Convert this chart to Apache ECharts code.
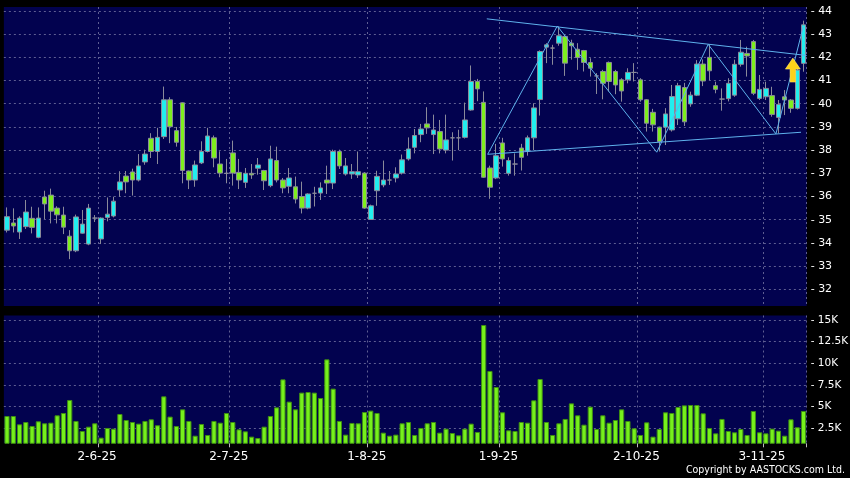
<!DOCTYPE html>
<html>
<head>
<meta charset="utf-8">
<script src="https://cdn.jsdelivr.net/npm/echarts@6/dist/echarts.min.js"></script>
<style>
  html, body { margin: 0; padding: 0; background: #000; }
  #chart { width: 850px; height: 478px; }
</style>
</head>
<body>
<div id="chart"></div>
<script>
// trading days (d-m-yy), one per candle
var days = [
  '12-5-25','13-5-25','14-5-25','15-5-25','16-5-25','19-5-25','20-5-25','21-5-25','22-5-25','23-5-25',
  '26-5-25','27-5-25','28-5-25','29-5-25','30-5-25',
  '2-6-25','3-6-25','4-6-25','5-6-25','6-6-25','9-6-25','10-6-25','11-6-25','12-6-25','13-6-25',
  '16-6-25','17-6-25','18-6-25','19-6-25','20-6-25','23-6-25','24-6-25','25-6-25','26-6-25','27-6-25','30-6-25',
  '2-7-25','3-7-25','4-7-25','7-7-25','8-7-25','9-7-25','10-7-25','11-7-25','14-7-25','15-7-25',
  '16-7-25','17-7-25','18-7-25','21-7-25','22-7-25','23-7-25','24-7-25','25-7-25','28-7-25','29-7-25','30-7-25','31-7-25',
  '1-8-25','4-8-25','5-8-25','6-8-25','7-8-25','8-8-25','11-8-25','12-8-25','13-8-25','14-8-25',
  '15-8-25','18-8-25','19-8-25','20-8-25','21-8-25','22-8-25','25-8-25','26-8-25','27-8-25','28-8-25','29-8-25',
  '1-9-25','2-9-25','3-9-25','4-9-25','5-9-25','8-9-25','9-9-25','10-9-25','11-9-25','12-9-25',
  '15-9-25','16-9-25','17-9-25','18-9-25','19-9-25','22-9-25','23-9-25','24-9-25','25-9-25','26-9-25','29-9-25','30-9-25',
  '2-10-25','3-10-25','6-10-25','8-10-25','9-10-25','10-10-25','13-10-25','14-10-25','15-10-25','16-10-25',
  '17-10-25','20-10-25','21-10-25','22-10-25','23-10-25','24-10-25','27-10-25','28-10-25','30-10-25','31-10-25',
  '3-11-25','4-11-25','5-11-25','6-11-25','7-11-25','10-11-25','11-11-25'
];
// first trading day of each month -> label + grid line
var monthStarts = [15, 36, 58, 79, 101, 121];

// [open, close, low, high]
var ohlc = [
  [34.55,35.13,34.45,35.53],[34.86,34.73,34.45,35.49],[34.47,35.07,34.17,35.15],[34.70,35.33,34.60,35.85],
  [35.06,34.67,34.41,35.56],[34.24,35.07,34.20,35.53],[35.98,35.68,35.03,36.25],[36.06,35.37,34.84,36.34],
  [35.50,35.21,34.84,35.58],[35.20,34.68,34.38,35.56],[34.29,33.66,33.30,34.55],[33.66,35.12,33.60,35.22],
  [34.42,34.81,34.40,35.42],[33.95,35.50,33.90,35.68],[35.07,35.07,34.90,35.20],[34.17,35.07,33.95,35.10],
  [35.10,35.24,34.93,35.96],[35.16,35.80,35.10,35.99],[36.28,36.63,35.99,37.09],[36.88,36.63,36.14,37.10],
  [37.06,36.71,36.04,37.20],[36.71,37.32,36.65,37.83],[37.49,37.83,37.37,38.02],[38.51,37.94,37.66,38.73],
  [37.94,38.55,37.40,38.96],[38.58,40.17,38.48,40.74],[40.17,39.01,38.30,40.28],[38.84,38.34,38.15,39.00],
  [40.04,37.12,36.57,40.06],[37.10,36.71,36.32,37.12],[36.71,37.36,36.42,37.55],[37.45,37.94,37.40,38.38],
  [37.94,38.61,37.90,38.96],[38.53,37.66,37.26,38.63],[37.40,37.01,36.83,37.95],[37.00,37.00,36.57,37.62],
  [37.88,37.01,36.47,38.41],[37.04,36.71,36.32,37.62],[36.61,37.00,36.37,37.23],[37.00,36.93,36.76,37.40],
  [37.22,37.36,36.94,37.66],[37.12,36.68,36.28,37.15],[36.47,37.62,36.40,38.19],[37.55,36.71,36.61,38.15],
  [36.71,36.37,36.14,36.80],[36.44,36.80,36.14,37.23],[36.42,35.89,35.70,36.86],[36.00,35.50,35.27,36.64],
  [35.50,36.11,35.45,36.14],[36.14,36.14,35.57,36.42],[36.15,36.37,35.85,36.61],[36.71,36.58,36.11,37.33],
  [36.58,37.94,36.32,38.02],[37.94,37.32,37.19,38.02],[36.97,37.32,36.90,37.66],[36.97,37.07,36.76,37.40],
  [36.93,37.07,36.80,37.94],[37.01,35.50,35.47,37.05],[35.01,35.60,34.99,35.65],[36.25,36.87,35.60,37.11],
  [36.50,36.71,36.40,37.55],[36.71,36.71,36.50,37.10],[36.80,36.97,36.61,37.26],[37.01,37.58,36.95,37.81],
  [37.62,38.05,37.55,38.55],[38.12,38.63,37.86,38.91],[38.67,38.91,38.34,39.13],[39.13,38.96,38.70,39.85],
  [38.67,38.87,37.83,39.53],[38.80,38.05,37.86,39.30],[38.00,38.44,37.86,39.53],[38.53,38.53,37.55,38.77],
  [38.53,38.53,38.00,38.88],[38.55,39.30,38.50,40.05],[39.73,40.96,39.70,41.65],[40.96,40.64,40.11,41.07],
  [40.06,36.83,36.80,40.53],[37.23,36.40,35.90,37.33],[36.80,37.76,36.75,38.27],[38.31,37.62,37.29,38.53],
  [37.00,37.55,36.90,37.69],[37.40,37.40,36.90,37.86],[38.09,37.69,37.12,38.27],[37.95,38.53,37.76,38.63],
  [38.53,39.82,38.00,40.02],[40.18,42.25,39.49,42.30],[42.44,42.54,41.75,42.61],[42.40,42.40,41.68,42.54],
  [42.61,42.93,42.50,43.33],[42.90,41.75,41.20,42.97],[42.61,42.50,41.90,42.76],[42.35,41.99,41.46,42.61],
  [42.29,41.78,41.39,42.32],[41.78,41.53,41.17,41.96],[41.20,41.20,40.42,41.32],[41.39,40.88,40.19,41.46],
  [41.78,40.96,40.53,41.82],[41.39,40.81,40.41,41.46],[41.03,40.55,40.09,41.10],[41.03,41.35,40.88,41.53],
  [41.35,41.35,40.96,41.75],[41.03,40.17,40.09,41.10],[40.17,39.16,38.80,40.20],[39.63,39.09,38.80,39.78],
  [38.99,38.37,37.94,39.01],[38.99,39.56,38.22,39.81],[38.87,40.31,38.80,40.81],[39.35,40.78,39.08,40.90],
  [40.70,39.22,39.04,40.90],[39.99,40.37,39.87,40.52],[40.37,41.71,40.33,41.88],[41.71,40.98,40.76,41.91],
  [42.00,41.42,41.02,42.56],[40.78,40.62,40.45,40.95],[40.20,40.20,39.70,40.66],[40.22,40.88,40.10,41.10],
  [40.37,41.70,40.30,41.90],[41.70,42.22,41.60,42.75],[42.17,42.06,41.17,42.46],[42.68,40.45,40.37,42.75],
  [40.23,40.62,40.16,41.24],[40.30,40.66,40.16,40.95],[40.35,39.54,39.44,40.73],[39.41,39.97,38.72,40.16],
  [40.30,40.16,39.51,40.59],[40.16,39.80,39.61,40.20],[39.80,41.45,39.75,41.67],[41.74,43.40,41.38,43.58]
];

// volume in thousands
var volumeK = [
  3.92,3.92,2.96,3.23,2.77,3.31,3.08,3.15,4.00,4.27,5.77,3.35,2.19,2.69,3.08,1.42,
  2.54,2.46,4.15,3.46,3.23,3.04,3.35,3.54,2.85,6.19,3.85,2.77,4.69,3.35,1.65,3.00,
  1.73,3.35,3.15,4.27,3.23,2.38,2.15,1.54,1.38,2.69,3.92,4.92,8.15,5.58,4.69,6.62,
  6.69,6.62,6.00,10.46,7.08,3.35,1.77,3.12,3.08,4.38,4.54,4.27,2.00,1.65,1.77,3.08,
  3.23,1.73,2.54,3.08,3.23,2.00,2.46,1.96,1.69,2.46,3.04,2.08,14.42,9.12,7.27,4.35,
  2.27,2.19,3.23,3.15,5.73,8.19,3.23,1.73,3.08,3.58,5.38,4.00,2.92,5.00,2.42,4.00,
  3.15,3.46,4.69,3.35,2.50,1.73,3.19,1.54,2.42,4.35,4.27,4.96,5.15,5.19,5.19,4.23,
  2.54,1.92,3.58,2.19,2.04,2.42,1.73,4.50,2.04,1.92,2.46,2.23,1.65,3.54,2.62,4.50
];

var priceTicks = [32, 33, 34, 35, 36, 37, 38, 39, 40, 41, 42, 43, 44];
var volumeTicks = [2.5, 5, 7.5, 10, 12.5, 15];

// drawn pattern lines: [candle position, price]
var trendUpper = [[76.5, 43.66], [127.5, 42.08]];
var trendLower = [[76.64, 37.82], [126.6, 38.77]];
var zigzag = [[76.64, 37.82], [87.74, 43.35], [103.6, 37.91], [111.8, 42.56], [122.6, 38.70], [126.96, 43.32]];
var arrowPoint = [[125.3, 41.45]];

var chart = echarts.init(document.getElementById('chart'));

var GRID_LINE = { color: '#5e5e92', width: 1, type: [2, 3] };
var isMonthStart = function (idx) { return monthStarts.indexOf(idx) >= 0; };

var option = {
  animation: false,
  backgroundColor: '#000',
  textStyle: { fontFamily: 'DejaVu Sans' },
  grid: [
    { left: 3.86, top: 7, width: 802.8, height: 299, show: true, backgroundColor: '#02024f', borderWidth: 0, outerBoundsMode: 'none' },
    { left: 3.86, top: 315.5, width: 802.8, height: 127.8, show: true, backgroundColor: '#02024f', borderWidth: 0, outerBoundsMode: 'none' }
  ],
  xAxis: [
    {
      type: 'category', gridIndex: 0, data: days, boundaryGap: true,
      axisLine: { show: false }, axisTick: { show: false }, axisLabel: { show: false },
      splitLine: { show: true, interval: isMonthStart, lineStyle: GRID_LINE }
    },
    {
      type: 'value', gridIndex: 0, min: -0.5, max: 127.5, show: false
    },
    {
      type: 'category', gridIndex: 1, data: days, boundaryGap: true,
      axisLine: { show: false },
      axisTick: { show: true, interval: isMonthStart, length: 4, lineStyle: { color: '#bbbbbb' } },
      axisLabel: {
        show: true, interval: isMonthStart, color: '#ffffff', fontSize: 12,
        margin: 8, padding: [0, 8, 0, 0], fontFamily: 'DejaVu Sans'
      },
      splitLine: { show: true, interval: isMonthStart, lineStyle: GRID_LINE }
    }
  ],
  yAxis: [
    {
      type: 'value', gridIndex: 0, position: 'right', min: 31.28, max: 44.17,
      axisLine: { show: false },
      axisTick: { show: false, customValues: priceTicks },
      axisLabel: {
        customValues: priceTicks, color: '#ffffff', fontSize: 11, margin: 4,
        fontFamily: 'DejaVu Sans',
        formatter: function (v) { return '- ' + v; }
      },
      splitLine: { show: true, lineStyle: GRID_LINE }
    },
    {
      type: 'value', gridIndex: 1, position: 'right', min: 0.77, max: 15.52,
      axisLine: { show: false },
      axisTick: { show: false, customValues: volumeTicks },
      axisLabel: {
        customValues: volumeTicks, color: '#ffffff', fontSize: 10.5, margin: 4,
        fontFamily: 'DejaVu Sans',
        formatter: function (v) { return '- ' + v + 'K'; }
      },
      splitLine: { show: true, lineStyle: GRID_LINE }
    }
  ],
  series: [
    {
      type: 'candlestick', xAxisIndex: 0, yAxisIndex: 0,
      data: ohlc, barWidth: 5,
      itemStyle: {
        color: '#22eeee', color0: '#7eee1e',
        borderColor: '#8a8a9a', borderColor0: '#8a8a9a', borderColorDoji: '#8a8a9a',
        borderWidth: 1
      }
    },
    {
      type: 'line', xAxisIndex: 1, yAxisIndex: 0, data: trendUpper, symbol: 'none', z: 5,
      lineStyle: { color: '#5fb2ec', width: 1 }
    },
    {
      type: 'line', xAxisIndex: 1, yAxisIndex: 0, data: trendLower, symbol: 'none', z: 5,
      lineStyle: { color: '#5fb2ec', width: 1 }
    },
    {
      type: 'line', xAxisIndex: 1, yAxisIndex: 0, data: zigzag, symbol: 'none', z: 5,
      lineStyle: { color: '#5fb2ec', width: 1 }
    },
    {
      type: 'scatter', xAxisIndex: 1, yAxisIndex: 0, data: arrowPoint, z: 6,
      symbol: 'path://M8,0 L16,11 L11,11 L11,24 L5,24 L5,11 L0,11 Z',
      symbolSize: [15, 24],
      itemStyle: { color: '#ffd21a', borderColor: '#ffe97a', borderWidth: 0.5, opacity: 1 }
    },
    {
      type: 'bar', xAxisIndex: 2, yAxisIndex: 1, data: volumeK, barWidth: 5.2, clip: true,
      itemStyle: { color: '#76f01c', borderColor: '#3f8f12', borderWidth: 1 }
    }
  ],
  graphic: [
    {
      type: 'text', right: 5, top: 465,
      style: {
        text: 'Copyright by AASTOCKS.com Ltd.', fill: '#ffffff',
        font: '10.5px "DejaVu Sans Condensed", "DejaVu Sans"'
      }
    }
  ]
};

chart.setOption(option);
</script>
</body>
</html>
